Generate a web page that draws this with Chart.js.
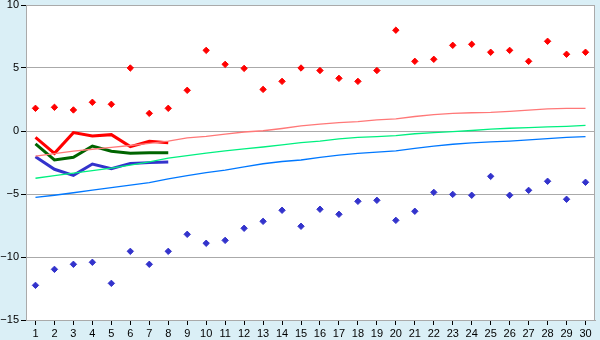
<!DOCTYPE html>
<html>
<head>
  <title>Projection chart</title>
  <script src="https://cdn.jsdelivr.net/npm/chart.js"></script>
  <style>
    html, body { margin: 0; padding: 0; background: #daeff6; }
    #wrap { width: 600px; height: 340px; }
  </style>
</head>
<body>
  <div id="wrap"><canvas id="chart" width="600" height="340"></canvas></div>

  <script>
    const labels = Array.from({ length: 30 }, (_, i) => String(i + 1));

    // scattered points
    const redPoints = [1.8, 1.88, 1.67, 2.28, 2.12, 5.0, 1.4, 1.8, 3.23, 6.4,
      5.29, 4.97, 3.3, 3.94, 5.0, 4.8, 4.18, 3.94, 4.8, 8.0,
      5.53, 5.69, 6.8, 6.88, 6.25, 6.4, 5.53, 7.12, 6.09, 6.25];
    const bluePoints = [-12.25, -10.98, -10.58, -10.42, -12.09, -9.55, -10.58, -9.55, -8.2, -8.91,
      -8.68, -7.72, -7.17, -6.29, -7.56, -6.21, -6.61, -5.58, -5.5, -7.09,
      -6.37, -4.87, -5.03, -5.1, -3.6, -5.1, -4.71, -3.99, -5.42, -4.07];

    // thick lines, first 8 categories
    const redLine = [-0.5, -1.77, -0.13, -0.4, -0.29, -1.24, -0.82, -0.93];
    const greenLine = [-1.03, -2.3, -2.09, -1.19, -1.61, -1.77, -1.72, -1.72];
    const blueLine = [-2.04, -3.04, -3.52, -2.62, -2.99, -2.57, -2.51, -2.46];

    // thin trend lines
    const salmonTrend = [-2.0, -1.8, -1.6, -1.45, -1.3, -1.15, -0.98, -0.8, -0.55, -0.42,
      -0.25, -0.08, 0.02, 0.2, 0.4, 0.55, 0.67, 0.75, 0.88, 0.97,
      1.15, 1.3, 1.4, 1.45, 1.48, 1.55, 1.65, 1.75, 1.8, 1.8];
    const greenTrend = [-3.75, -3.55, -3.35, -3.15, -2.95, -2.7, -2.45, -2.15, -1.95, -1.75,
      -1.58, -1.42, -1.27, -1.1, -0.93, -0.8, -0.62, -0.5, -0.44, -0.36,
      -0.22, -0.13, -0.05, 0.04, 0.15, 0.22, 0.27, 0.32, 0.37, 0.45];
    const blueTrend = [-5.27, -5.1, -4.9, -4.7, -4.5, -4.3, -4.1, -3.8, -3.55, -3.3,
      -3.1, -2.85, -2.6, -2.42, -2.3, -2.1, -1.92, -1.78, -1.67, -1.58,
      -1.38, -1.2, -1.05, -0.95, -0.87, -0.8, -0.7, -0.6, -0.5, -0.45];

    const yTicks = [-15, -10, -5, 0, 5, 10];

    const plotFrame = {
      id: "plotFrame",
      beforeDraw(chart) {
        const { ctx, chartArea: a } = chart;
        ctx.save();
        ctx.fillStyle = "#ffffff";
        ctx.fillRect(a.left, a.top, a.right - a.left, a.bottom - a.top);
        ctx.restore();
      },
      afterDatasetsDraw(chart) {
        const { ctx, chartArea: a } = chart;
        ctx.save();
        ctx.strokeStyle = "#aaaaaa";
        ctx.lineWidth = 1;
        ctx.beginPath();
        ctx.moveTo(Math.round(a.right) - 0.5, a.top);
        ctx.lineTo(Math.round(a.right) - 0.5, a.bottom);
        ctx.stroke();
        ctx.restore();
      }
    };

    const line = (data, color, width) => ({
      data, borderColor: color, backgroundColor: color, borderWidth: width,
      pointRadius: 0, tension: 0, fill: false
    });
    const dots = (data, color) => ({
      data, showLine: false, pointStyle: "rectRot", pointRadius: 3.2,
      pointBackgroundColor: color, pointBorderColor: color, pointBorderWidth: 1
    });

    Chart.defaults.font.family = "'Liberation Sans', Arial, sans-serif";
    Chart.defaults.font.size = 11;
    Chart.defaults.color = "#000000";

    new Chart(document.getElementById("chart").getContext("2d"), {
      type: "line",
      data: {
        labels,
        datasets: [
          line(salmonTrend, "#ff7878", 1.3),
          line(greenTrend, "#00f080", 1.3),
          line(blueTrend, "#0078ff", 1.3),
          line(blueLine, "#3333cc", 3),
          line(greenLine, "#006400", 3),
          line(redLine, "#ff0000", 3),
          dots(redPoints, "#ff0000"),
          dots(bluePoints, "#3333cc")
        ]
      },
      options: {
        responsive: false,
        animation: false,
        layout: { padding: { top: 5, right: 5, left: 0, bottom: 0 } },
        plugins: { legend: { display: false }, tooltip: { enabled: false } },
        scales: {
          x: {
            offset: true,
            grid: { drawOnChartArea: false, drawTicks: true, tickLength: 5, color: "#000000" },
            border: { color: "#aaaaaa" },
            ticks: { autoSkip: false, maxRotation: 0, padding: 2 },
            afterFit(s) { s.height = 20; s.paddingLeft = 0; s.paddingRight = 0; }
          },
          y: {
            min: -15, max: 10,
            afterBuildTicks(s) { s.ticks = yTicks.map(v => ({ value: v })); },
            grid: { color: "#aaaaaa", tickLength: 5, tickColor: "#000000" },
            border: { color: "#aaaaaa" },
            ticks: {
              padding: 2,
              callback: v => String(v).replace("-", "\u2212")
            },
            afterFit(s) { s.width = 26; s.paddingTop = 0; s.paddingBottom = 0; }
          }
        }
      },
      plugins: [plotFrame]
    });
  </script>
</body>
</html>
